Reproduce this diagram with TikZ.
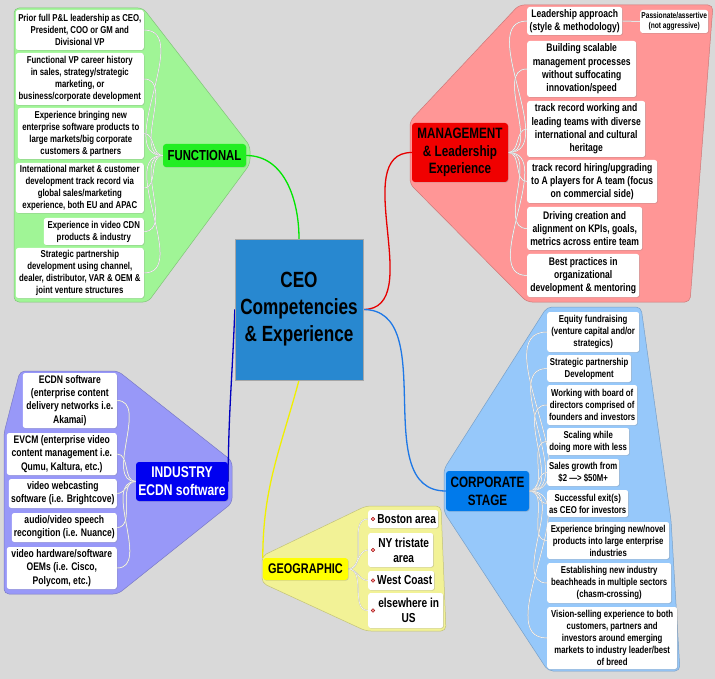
\documentclass[tikz,border=0pt]{standalone}
\usepackage{fontspec}
\setmainfont{Liberation Sans}[FakeStretch=0.78]
\usetikzlibrary{shadows}
\definecolor{canvas}{RGB}{217,217,217}
\definecolor{ceoblue}{RGB}{40,136,208}
\definecolor{funcgreen}{RGB}{34,238,34}
\definecolor{funczone}{RGB}{160,245,150}
\definecolor{mgmtred}{RGB}{240,0,0}
\definecolor{mgmtzone}{RGB}{255,150,150}
\definecolor{indblue}{RGB}{0,0,240}
\definecolor{indzone}{RGB}{152,152,248}
\definecolor{corpblue}{RGB}{0,122,235}
\definecolor{corpzone}{RGB}{150,200,250}
\definecolor{geoyellow}{RGB}{255,255,0}
\definecolor{geozone}{RGB}{242,242,150}
\pgfdeclarelayer{back}
\pgfdeclarelayer{lines}
\pgfsetlayers{back,lines,main}

\begin{document}
\begin{tikzpicture}[
    x=1pt, y=1pt,
    leafbox/.style={fill=white, rounded corners=2.5pt, align=center, inner sep=1pt,
        drop shadow={shadow xshift=.7pt, shadow yshift=-.7pt, opacity=.3}},
    funcleaf/.style={leafbox, font=\bfseries\fontsize{10}{12}\selectfont},
    mgmtleaf/.style={leafbox, font=\bfseries\fontsize{11}{13.3}\selectfont},
    indleaf/.style={leafbox, font=\bfseries\fontsize{11}{13.3}\selectfont},
    corpleaf/.style={leafbox, font=\bfseries\fontsize{10}{12}\selectfont},
    geoleaf/.style={leafbox, font=\bfseries\fontsize{13}{15}\selectfont},
    topicbox/.style={rounded corners=3pt, align=center, inner sep=1pt,
        font=\bfseries\fontsize{15}{17.5}\selectfont,
        drop shadow={shadow xshift=.7pt, shadow yshift=-.7pt, opacity=.3}},
    centerbox/.style={fill=ceoblue, draw=black!35, line width=.4pt, align=center,
        minimum width=128pt, minimum height=141pt,
        font=\bfseries\fontsize{22}{27}\selectfont},
    geodot/.style={circle, fill=red!45!white, draw=red!55!black, line width=.3pt,
        inner sep=0pt, minimum size=3.6pt},
    zone/.style={rounded corners=5pt, line width=.5pt},
    branch/.style={line width=1.3pt},
    twig/.style={draw=black!28, double=white, double distance=.5pt, line width=.25pt}
]
\useasboundingbox (0,0) rectangle (715,-679);

% backdrop and the five zones
\begin{pgfonlayer}{back}
    \fill[canvas] (0,0) rectangle (715,-679);
    \filldraw[zone, fill=funczone, draw=funczone!80!black]
        (14,-8) -- (143,-8) -- (250,-146) -- (250,-164) -- (148,-302) -- (14,-302) -- cycle;
    \filldraw[zone, fill=mgmtzone, draw=mgmtzone!80!black]
        (519,-5) -- (713,-5) -- (690,-302) -- (527,-302) -- (410,-184) -- (410,-121) -- cycle;
    \filldraw[zone, fill=indzone, draw=indzone!80!black]
        (20,-371) -- (118,-371) -- (232,-461) -- (232,-503) -- (118,-594) -- (4,-594) -- (4,-433) -- cycle;
    \filldraw[zone, fill=corpzone, draw=corpzone!80!black]
        (547,-307) -- (641,-307) -- (671,-520) -- (680,-671) -- (548,-671) -- (444,-512) -- (444,-469) -- cycle;
    \filldraw[zone, fill=geozone, draw=geozone!80!black]
        (366,-506) -- (441,-506) -- (446,-631) -- (366,-631) -- (262,-583) -- (262,-556) -- cycle;
\end{pgfonlayer}

% centre
\node[centerbox] (ceo) at (299,-309.5) {CEO\\Competencies\\\& Experience};

% topics
\node[topicbox, fill=funcgreen, minimum width=83pt, minimum height=23pt,
    font=\bfseries\fontsize{14.5}{17}\selectfont] (func) at (204.5,-155.5) {FUNCTIONAL};
\node[topicbox, fill=mgmtred, minimum width=96pt, minimum height=59pt] (mgmt) at (460,-152.5)
    {MANAGEMENT\\\& Leadership\\Experience};
\node[topicbox, fill=indblue, text=white, minimum width=92pt, minimum height=39pt,
    font=\bfseries\fontsize{15.5}{18}\selectfont] (ind) at (182,-481.5) {INDUSTRY\\ECDN software};
\node[topicbox, fill=corpblue, minimum width=83pt, minimum height=40pt,
    font=\bfseries\fontsize{15}{18}\selectfont] (corp) at (487.5,-491) {CORPORATE\\STAGE};
\node[topicbox, fill=geoyellow, minimum width=85pt, minimum height=22pt,
    font=\bfseries\fontsize{14}{16}\selectfont] (geo) at (305.5,-569) {GEOGRAPHIC};

% functional
\node[funcleaf, minimum width=128pt, minimum height=40pt, anchor=east] (f1) at (144,-30)
    {Prior full P\&L leadership as CEO,\\President, COO or GM and\\Divisional VP};
\node[funcleaf, minimum width=128pt, minimum height=52pt, anchor=east] (f2) at (144,-79)
    {Functional VP career history\\in sales, strategy/strategic\\marketing, or\\business/corporate development};
\node[funcleaf, minimum width=126pt, minimum height=51pt, anchor=east] (f3) at (144,-133.5)
    {Experience bringing new\\enterprise software products to\\large markets/big corporate\\customers \& partners};
\node[funcleaf, minimum width=128pt, minimum height=50pt, anchor=east] (f4) at (144,-188)
    {International market \& customer\\development track record via\\global sales/marketing\\experience, both EU and APAC};
\node[funcleaf, minimum width=100pt, minimum height=27pt, anchor=east] (f5) at (144,-231.5)
    {Experience in video CDN\\products \& industry};
\node[funcleaf, minimum width=128pt, minimum height=50pt, anchor=east] (f6) at (144,-273)
    {Strategic partnership\\development using channel,\\dealer, distributor, VAR \& OEM \&\\joint venture structures};

% management
\node[mgmtleaf, minimum width=95pt, minimum height=28pt, anchor=west] (m1) at (527,-21)
    {Leadership approach\\(style \& methodology)};
\node[leafbox, font=\bfseries\fontsize{8.5}{10}\selectfont, minimum width=68pt, minimum height=23pt,
    anchor=west] (mstyle) at (640,-21.5) {Passionate/assertive\\(not aggressive)};
\node[mgmtleaf, minimum width=109pt, minimum height=56pt, anchor=west] (m2) at (527,-69)
    {Building scalable\\management processes\\without suffocating\\innovation/speed};
\node[mgmtleaf, minimum width=118pt, minimum height=56pt, anchor=west] (m3) at (527,-129)
    {track record working and\\leading teams with diverse\\international and cultural\\heritage};
\node[mgmtleaf, minimum width=130pt, minimum height=43pt, anchor=west] (m4) at (527,-181.5)
    {track record hiring/upgrading\\to A players for A team (focus\\on commercial side)};
\node[mgmtleaf, minimum width=115pt, minimum height=43pt, anchor=west] (m5) at (527,-228.5)
    {Driving creation and\\alignment on KPIs, goals,\\metrics across entire team};
\node[mgmtleaf, minimum width=112pt, minimum height=43pt, anchor=west] (m6) at (527,-275.5)
    {Best practices in\\organizational\\development \& mentoring};

% industry
\node[indleaf, minimum width=94pt, minimum height=55pt, anchor=east] (i1) at (117,-400.5)
    {ECDN software\\(enterprise content\\delivery networks i.e.\\Akamai)};
\node[indleaf, minimum width=110pt, minimum height=42pt, anchor=east] (i2) at (117,-454)
    {EVCM (enterprise video\\content management i.e.\\Qumu, Kaltura, etc.)};
\node[indleaf, minimum width=108pt, minimum height=29pt, anchor=east] (i3) at (117,-493.5)
    {video webcasting\\software (i.e. Brightcove)};
\node[indleaf, minimum width=105pt, minimum height=29pt, anchor=east] (i4) at (117,-527.5)
    {audio/video speech\\recongition (i.e. Nuance)};
\node[indleaf, minimum width=110pt, minimum height=42pt, anchor=east] (i5) at (117,-568)
    {video hardware/software\\OEMs (i.e. Cisco,\\Polycom, etc.)};

% corporate stage
\node[corpleaf, minimum width=92pt, minimum height=40pt, anchor=west] (c1) at (547,-332)
    {Equity fundraising\\(venture capital and/or\\strategics)};
\node[corpleaf, minimum width=84pt, minimum height=27pt, anchor=west] (c2) at (547,-368.5)
    {Strategic partnership\\Development};
\node[corpleaf, minimum width=90pt, minimum height=40pt, anchor=west] (c3) at (547,-405)
    {Working with board of\\directors comprised of\\founders and investors};
\node[corpleaf, minimum width=82pt, minimum height=27pt, anchor=west] (c4) at (547,-441.5)
    {Scaling while\\doing more with less};
\node[corpleaf, minimum width=72pt, minimum height=27pt, anchor=west] (c5) at (547,-472.5)
    {Sales growth from\\\$2 —> \$50M+};
\node[corpleaf, minimum width=81pt, minimum height=27pt, anchor=west] (c6) at (547,-503.5)
    {Successful exit(s)\\as CEO for investors};
\node[corpleaf, minimum width=122pt, minimum height=37pt, anchor=west] (c7) at (547,-540.5)
    {Experience bringing new/novel\\products into large enterprise\\industries};
\node[corpleaf, minimum width=124pt, minimum height=40pt, anchor=west] (c8) at (547,-583)
    {Establishing new industry\\beachheads in multiple sectors\\(chasm-crossing)};
\node[corpleaf, minimum width=130pt, minimum height=62pt, anchor=west] (c9) at (547,-638)
    {Vision-selling experience to both\\customers, partners and\\investors around emerging\\markets to industry leader/best\\of breed};

% geographic
\node[geoleaf, minimum width=70pt, minimum height=18pt, anchor=west] (g1) at (368,-519)
    {\hspace*{7pt}Boston area};
\node[geoleaf, minimum width=65pt, minimum height=34pt, anchor=west] (g2) at (368,-550)
    {\hspace*{6pt}NY tristate\\\hspace*{6pt}area};
\node[geoleaf, minimum width=66pt, minimum height=19pt, anchor=west] (g3) at (368,-580.5)
    {\hspace*{7pt}West Coast};
\node[geoleaf, minimum width=75pt, minimum height=35pt, anchor=west] (g4) at (368,-610.5)
    {\hspace*{6pt}elsewhere in\\\hspace*{6pt}US};
\node[geodot] (b1) at ([xshift=5pt]g1.west) {};
\node[geodot] (b2) at ([xshift=5pt]g2.west) {};
\node[geodot] (b3) at ([xshift=5pt]g3.west) {};
\node[geodot] (b4) at ([xshift=5pt]g4.west) {};

% connectors
\begin{pgfonlayer}{lines}
    \draw[branch, draw={rgb,255:red,0;green,230;blue,0}] (ceo.north) to[out=90, in=0] (func.east);
    \draw[branch, draw={rgb,255:red,230;green,0;blue,0}] (ceo.east) to[out=0, in=180] (mgmt.west);
    \draw[branch, draw={rgb,255:red,30;green,120;blue,230}] (ceo.east) to[out=0, in=180] (corp.west);
    \draw[branch, draw={rgb,255:red,240;green,240;blue,0}] (ceo.south) to[out=-105, in=90] (geo.north west);
    \draw[branch, draw={rgb,255:red,0;green,0;blue,190}] (ceo.west) to[out=-92, in=90] (ind.east);

    \draw[twig] (func.west) to[out=180, in=0] (f1.east);
    \draw[twig] (func.west) to[out=180, in=0] (f2.east);
    \draw[twig] (func.west) to[out=180, in=0] (f3.east);
    \draw[twig] (func.west) to[out=180, in=0] (f4.east);
    \draw[twig] (func.west) to[out=180, in=0] (f5.east);
    \draw[twig] (func.west) to[out=180, in=0] (f6.east);

    \draw[twig] (mgmt.east) to[out=0, in=180] (m1.west);
    \draw[twig] (mgmt.east) to[out=0, in=180] (m2.west);
    \draw[twig] (mgmt.east) to[out=0, in=180] (m3.west);
    \draw[twig] (mgmt.east) to[out=0, in=180] (m4.west);
    \draw[twig] (mgmt.east) to[out=0, in=180] (m5.west);
    \draw[twig] (mgmt.east) to[out=0, in=180] (m6.west);
    \draw[twig] (m1.east) -- (mstyle.west);

    \draw[twig] (ind.west) to[out=180, in=0] (i1.east);
    \draw[twig] (ind.west) to[out=180, in=0] (i2.east);
    \draw[twig] (ind.west) to[out=180, in=0] (i3.east);
    \draw[twig] (ind.west) to[out=180, in=0] (i4.east);
    \draw[twig] (ind.west) to[out=180, in=0] (i5.east);

    \draw[twig] (corp.east) to[out=0, in=180] (c1.west);
    \draw[twig] (corp.east) to[out=0, in=180] (c2.west);
    \draw[twig] (corp.east) to[out=0, in=180] (c3.west);
    \draw[twig] (corp.east) to[out=0, in=180] (c4.west);
    \draw[twig] (corp.east) to[out=0, in=180] (c5.west);
    \draw[twig] (corp.east) to[out=0, in=180] (c6.west);
    \draw[twig] (corp.east) to[out=0, in=180] (c7.west);
    \draw[twig] (corp.east) to[out=0, in=180] (c8.west);
    \draw[twig] (corp.east) to[out=0, in=180] (c9.west);

    \draw[twig] (geo.east) to[out=0, in=180] (g1.west);
    \draw[twig] (geo.east) to[out=0, in=180] (g2.west);
    \draw[twig] (geo.east) to[out=0, in=180] (g3.west);
    \draw[twig] (geo.east) to[out=0, in=180] (g4.west);
\end{pgfonlayer}
\end{tikzpicture}
\end{document}
